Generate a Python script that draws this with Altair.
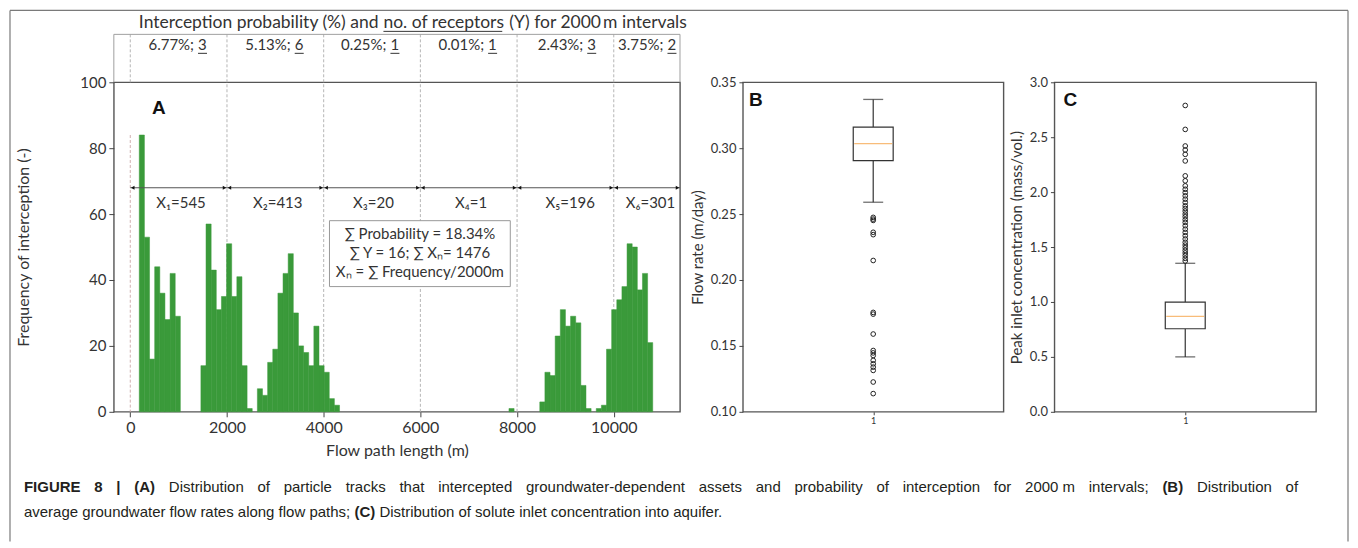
import altair as alt
import pandas as pd

FONT = "Lato"
BOLD_FONT = "Liberation Sans"
CAP_FONT = "Liberation Sans"
TXT = "#333333"
GREEN = "#3a9a3a"
ORANGE = "#f5a040"

# ---------------- Panel A data ----------------
hist_counts = [84, 53, 16, 44, 36, 28, 42, 29, 0, 0, 0, 0,
               14, 57, 43, 31, 35, 51, 35, 41, 14, 1, 0,
               7, 5, 15, 19, 36, 42, 48, 30, 20, 18, 14, 26, 14, 12, 4, 2,
               0, 0, 0, 0, 0, 0, 0, 0, 0, 0, 0, 0, 0, 0, 0, 0, 0, 0, 0, 0, 0, 0,
               0, 0, 0, 0, 0, 0, 0, 0, 0, 0, 0,
               1, 0, 0, 0, 0, 0,
               3, 12, 11, 23, 31, 26, 29, 27, 8, 1, 0, 1, 2,
               19, 31, 34, 38, 51, 50, 37, 42, 21]
hist_first_edge = 186.0
hist_bin_width = 106.2

interval_bounds = [0, 2000, 4000, 6000, 8000, 10000]
interval_end = 11370
interval_label_pos = [1050, 3050, 5030, 7050, 9100, 10760]
interval_prob = ["6.77%;", "5.13%;", "0.25%;", "0.01%;", "2.43%;", "3.75%;"]
interval_receptors = ["3", "6", "1", "1", "3", "2"]
interval_X = [545, 413, 20, 1, 196, 301]
interval_sub = ["\u2081", "\u2082", "\u2083", "\u2084", "\u2085", "\u2086"]

summary_lines = ["\u2211 Probability = 18.34%",
                 "\u2211 Y = 16; \u2211 X\u2099= 1476",
                 "X\u2099 = \u2211 Frequency/2000m"]
summary_line_y = [53.9, 48.2, 42.4]
summary_box = {"x0": [4120], "x1": [7860], "y0": [38], "y1": [58]}
arrow_level = 68
label_level = 63.5
zero_line_top = 84
xA_domain = [-340, 11370]

title_part1 = "Interception probability (%) and"
title_under = "no. of receptors"
title_part3 = "(Y) for 2000\u2009m intervals"

# ---------------- Panel B data ----------------
flow_stats = {"whislo": 0.259, "q1": 0.2905, "med": 0.3035, "q3": 0.316, "whishi": 0.337}
flow_outliers = [0.2475, 0.2462, 0.2452, 0.2362, 0.2344, 0.2148, 0.1754, 0.1741,
                 0.1590, 0.1465, 0.1447, 0.1427, 0.1390, 0.1364, 0.1339, 0.1314,
                 0.1226, 0.1138]

# ---------------- Panel C data ----------------
conc_stats = {"whislo": 0.50, "q1": 0.756, "med": 0.868, "q3": 0.998, "whishi": 1.352}
conc_outliers = [2.789, 2.571, 2.420, 2.384, 2.344, 2.284, 2.148, 2.103, 2.057,
                 2.026, 1.996, 1.966, 1.936, 1.906, 1.875, 1.851, 1.827, 1.800,
                 1.776, 1.749, 1.724, 1.694, 1.663, 1.633, 1.603, 1.573, 1.543,
                 1.518, 1.494, 1.470, 1.446, 1.422, 1.397, 1.373]

# ---------------- caption ----------------
caption_line1 = [("FIGURE", True), ("8", True), ("|", True), ("(A)", True),
                 ("Distribution", False), ("of", False), ("particle", False), ("tracks", False),
                 ("that", False), ("intercepted", False), ("groundwater-dependent", False),
                 ("assets", False), ("and", False), ("probability", False), ("of", False),
                 ("interception", False), ("for", False), ("2000 m", False), ("intervals;", False),
                 ("(B)", True), ("Distribution", False), ("of", False)]
caption_line2 = [("average groundwater flow rates along flow paths;", False), ("(C)", True),
                 ("Distribution of solute inlet concentration into aquifer.", False)]

# ---------------- layout (pixels) ----------------
WA, HA = 567, 330
WB, WC = 261, 262
A_LEFT, A_TOP = 112, 80
CAP_SIZE = 15
CAP_LEFT, CAP_RIGHT = 22, 1298
CAP_Y1, CAP_Y2 = 485, 510

# Arial-compatible advance widths (per 1000 em) for laying out the caption words
_REG = dict(zip("abcdefghijklmnopqrstuvwxyz",
                [556, 556, 500, 556, 556, 278, 556, 556, 222, 222, 500, 222, 833,
                 556, 556, 556, 556, 333, 500, 278, 556, 500, 722, 500, 500, 500]))
_REG.update({" ": 278, ".": 278, ";": 278, "-": 333, "(": 333, ")": 333, "D": 722, "|": 260})
_REG.update({d: 556 for d in "0123456789"})
_BOLD = {"F": 611, "I": 278, "G": 778, "U": 722, "R": 722, "E": 667, "8": 556, "|": 280,
         "(": 333, ")": 333, "A": 722, "B": 722, "C": 722, " ": 278}


def text_width(s, bold):
    table = _BOLD if bold else _REG
    return sum(table.get(ch, 556) for ch in s) * CAP_SIZE / 1000.0


axis_common = dict(labelFont=FONT, labelColor=TXT, tickColor="#444444", domain=False,
                   grid=False, titleFont=FONT, titleColor=TXT, titleFontWeight="normal")

# ---------- Panel A ----------
df_hist = pd.DataFrame({
    "x0": [hist_first_edge + hist_bin_width * k for k in range(len(hist_counts))],
    "x1": [hist_first_edge + hist_bin_width * (k + 1) for k in range(len(hist_counts))],
    "count": hist_counts,
})
df_hist = df_hist[df_hist["count"] > 0]

xsA = alt.Scale(domain=xA_domain, nice=False, zero=False)
ysA = alt.Scale(domain=[0, 100], nice=False)
xaxA = alt.Axis(values=interval_bounds, format="d", labelFontSize=16, tickSize=5, labelPadding=3,
                title="Flow path length (m)", titleFontSize=16, titlePadding=7, **axis_common)
yaxA = alt.Axis(values=[0, 20, 40, 60, 80, 100], labelFontSize=15, tickSize=5, labelPadding=3,
                title="Frequency of interception (-)", titleFontSize=16, titlePadding=48,
                **axis_common)


def XA(f):
    return alt.X(f, scale=xsA, axis=xaxA)


def YA(f):
    return alt.Y(f, scale=ysA, axis=yaxA)


bars = alt.Chart(df_hist).mark_bar(color=GREEN, stroke=GREEN, strokeWidth=0.5).encode(
    x=XA("x0:Q"), x2="x1:Q", y=YA("count:Q"), y2=alt.datum(0))

one = pd.DataFrame({"k": [0]})
BOX_TOP = -48
LBL_Y = -37

df_b = pd.DataFrame({"b": interval_bounds[1:]})
dashed = alt.Chart(df_b).mark_rule(color="#b5b5b5", strokeDash=[3, 2], strokeWidth=1).encode(
    x=XA("b:Q"), y=alt.value(BOX_TOP), y2=alt.value(HA))
df_zero = pd.DataFrame({"b": [interval_bounds[0]], "top": [zero_line_top], "bot": [0]})
zero_plot = alt.Chart(df_zero).mark_rule(color="#d0b0b0", strokeDash=[3, 2], strokeWidth=1).encode(
    x=XA("b:Q"), y=YA("top:Q"), y2="bot:Q")
zero_box = alt.Chart(df_zero).mark_rule(color="#b5b5b5", strokeDash=[3, 2], strokeWidth=1).encode(
    x=XA("b:Q"), y=alt.value(BOX_TOP), y2=alt.value(0))

box_top = alt.Chart(one).mark_rule(color="#a0a0a0", strokeWidth=1).encode(
    x=alt.value(0), x2=alt.value(WA), y=alt.value(BOX_TOP))
box_l = alt.Chart(one).mark_rule(color="#a0a0a0", strokeWidth=1).encode(
    x=alt.value(0), y=alt.value(BOX_TOP), y2=alt.value(0))
box_r = alt.Chart(one).mark_rule(color="#a0a0a0", strokeWidth=1).encode(
    x=alt.value(WA), y=alt.value(BOX_TOP), y2=alt.value(0))

df_arrow = pd.DataFrame({"x0": [interval_bounds[0]], "x1": [interval_end], "y": [arrow_level]})
arrow_line = alt.Chart(df_arrow).mark_rule(color="#555555", strokeWidth=1.2).encode(
    x=XA("x0:Q"), x2="x1:Q", y=YA("y:Q"))
df_left = pd.DataFrame({"x": interval_bounds, "y": [arrow_level] * len(interval_bounds)})
df_right = pd.DataFrame({"x": interval_bounds[1:] + [interval_end],
                         "y": [arrow_level] * len(interval_bounds)})
heads_l = alt.Chart(df_left).mark_point(shape="triangle-left", filled=True, size=16, color="#111",
                                         opacity=1, xOffset=2.5).encode(x=XA("x:Q"), y=YA("y:Q"))
heads_r = alt.Chart(df_right).mark_point(shape="triangle-right", filled=True, size=16, color="#111",
                                          opacity=1, xOffset=-2.5).encode(x=XA("x:Q"), y=YA("y:Q"))

df_xl = pd.DataFrame({
    "x": interval_label_pos,
    "y": [label_level] * 6,
    "t": ["X" + s + "=" + str(v) for s, v in zip(interval_sub, interval_X)],
})
x_labels = alt.Chart(df_xl).mark_text(font=FONT, fontSize=15, color=TXT).encode(
    x=XA("x:Q"), y=YA("y:Q"), text="t:N")

df_pl = pd.DataFrame({"x": interval_label_pos, "p": interval_prob, "r": interval_receptors})
prob_a = alt.Chart(df_pl).mark_text(font=FONT, fontSize=15, color=TXT, align="right",
                                     xOffset=13).encode(x=XA("x:Q"), y=alt.value(LBL_Y), text="p:N")
prob_b = alt.Chart(df_pl).mark_text(font=FONT, fontSize=15, color=TXT, align="left",
                                     xOffset=17).encode(x=XA("x:Q"), y=alt.value(LBL_Y), text="r:N")
prob_u = alt.Chart(df_pl).mark_rule(color=TXT, strokeWidth=1, xOffset=17, x2Offset=26).encode(
    x=XA("x:Q"), x2="x:Q", y=alt.value(LBL_Y + 8))

T_Y = -59
T_SIZE = 17.5
U_START, U_LEN = 270, 122
title_a = alt.Chart(pd.DataFrame({"t": [title_part1]})).mark_text(
    font=FONT, fontSize=T_SIZE, color=TXT, align="right", baseline="middle").encode(
    x=alt.value(U_START - 5), y=alt.value(T_Y), text="t:N")
title_b = alt.Chart(pd.DataFrame({"t": [title_under]})).mark_text(
    font=FONT, fontSize=T_SIZE, color=TXT, align="left", baseline="middle").encode(
    x=alt.value(U_START), y=alt.value(T_Y), text="t:N")
title_u = alt.Chart(one).mark_rule(color=TXT, strokeWidth=1).encode(
    x=alt.value(U_START), x2=alt.value(U_START + U_LEN - 3), y=alt.value(T_Y + 8))
title_c = alt.Chart(pd.DataFrame({"t": [title_part3]})).mark_text(
    font=FONT, fontSize=T_SIZE, color=TXT, align="left", baseline="middle").encode(
    x=alt.value(U_START + U_LEN + 4), y=alt.value(T_Y), text="t:N")

sum_rect = alt.Chart(pd.DataFrame(summary_box)).mark_rect(
    fill="white", stroke="#999999", strokeWidth=1).encode(
    x=XA("x0:Q"), x2="x1:Q", y=YA("y0:Q"), y2="y1:Q")
df_sum = pd.DataFrame({"x": [(summary_box["x0"][0] + summary_box["x1"][0]) / 2] * 3,
                       "y": summary_line_y, "t": summary_lines})
sum_text = alt.Chart(df_sum).mark_text(font=FONT, fontSize=15, color=TXT).encode(
    x=XA("x:Q"), y=YA("y:Q"), text="t:N")

letter_A = alt.Chart(pd.DataFrame({"t": ["A"]})).mark_text(
    font=BOLD_FONT, fontWeight="bold", fontSize=19, color="#111").encode(
    x=alt.value(45), y=alt.value(26), text="t:N")

# outer frame of the figure
FR_L, FR_R, FR_T, FR_B = 8 - A_LEFT, 1348 - A_LEFT, 8 - A_TOP, 540 - A_TOP
frame = [
    alt.Chart(one).mark_rule(color="#7a7a7a", strokeWidth=1.2).encode(
        x=alt.value(FR_L), y=alt.value(FR_T), y2=alt.value(FR_B)),
    alt.Chart(one).mark_rule(color="#7a7a7a", strokeWidth=1.2).encode(
        x=alt.value(FR_R), y=alt.value(FR_T), y2=alt.value(FR_B)),
    alt.Chart(one).mark_rule(color="#7a7a7a", strokeWidth=1.2).encode(
        x=alt.value(FR_L), x2=alt.value(FR_R), y=alt.value(FR_T)),
]

# caption: line 1 justified, line 2 left aligned
caption = []
w1 = [text_width(w, b) for w, b in caption_line1]
gap1 = (CAP_RIGHT - CAP_LEFT - sum(w1)) / (len(caption_line1) - 1)
pos = CAP_LEFT
for (w, b), ww in zip(caption_line1, w1):
    caption.append((w, b, pos, CAP_Y1))
    pos += ww + gap1
pos = CAP_LEFT
for w, b in caption_line2:
    caption.append((w, b, pos, CAP_Y2))
    pos += text_width(w, b) + text_width(" ", False)

caption_marks = []
for text, bold, px, py in caption:
    caption_marks.append(
        alt.Chart(pd.DataFrame({"t": [text]})).mark_text(
            font=CAP_FONT, fontSize=CAP_SIZE, fontWeight="bold" if bold else "normal",
            color="#231f20", align="left", baseline="middle").encode(
            x=alt.value(round(px - A_LEFT, 1)), y=alt.value(py - A_TOP), text="t:N"))

panel_A = alt.layer(
    dashed, zero_plot, zero_box, box_top, box_l, box_r, bars, arrow_line, heads_l, heads_r,
    x_labels, prob_a, prob_b, prob_u, title_a, title_b, title_u, title_c, sum_rect, sum_text,
    letter_A, *frame, *caption_marks
).properties(width=WA, height=HA)


# ---------- Panels B and C ----------
def box_panel(stats, outliers, ydomain, yvalues, yfmt, ytitle, letter, letter_x, width):
    df_s = pd.DataFrame([dict(pos=1, **stats)])
    df_o = pd.DataFrame({"pos": [1] * len(outliers), "v": outliers})
    xs = alt.Scale(domain=[0.5, 1.5], nice=False, zero=False)
    ys = alt.Scale(domain=ydomain, nice=False, zero=False)
    xaxis = alt.Axis(values=[1], format="d", labelFontSize=9, tickSize=3, labelPadding=2,
                     title=None, **axis_common)
    yaxis = alt.Axis(values=yvalues, format=yfmt, labelFontSize=13, tickSize=4, labelPadding=3,
                     title=ytitle, titleFontSize=15, titlePadding=5, **axis_common)

    def X(f):
        return alt.X(f, scale=xs, axis=xaxis)

    def Y(f):
        return alt.Y(f, scale=ys, axis=yaxis)

    wlo = alt.Chart(df_s).mark_rule(color="#333", strokeWidth=1.2).encode(
        x=X("pos:Q"), y=Y("whislo:Q"), y2="q1:Q")
    whi = alt.Chart(df_s).mark_rule(color="#333", strokeWidth=1.2).encode(
        x=X("pos:Q"), y=Y("q3:Q"), y2="whishi:Q")
    box = alt.Chart(df_s).mark_bar(size=40, fill="white", stroke="#333", strokeWidth=1.2).encode(
        x=X("pos:Q"), y=Y("q1:Q"), y2="q3:Q")
    med = alt.Chart(df_s).mark_tick(orient="horizontal", size=38, thickness=1.3, color=ORANGE).encode(
        x=X("pos:Q"), y=Y("med:Q"))
    cap_lo = alt.Chart(df_s).mark_tick(orient="horizontal", size=20, thickness=1.3, color="#333").encode(
        x=X("pos:Q"), y=Y("whislo:Q"))
    cap_hi = alt.Chart(df_s).mark_tick(orient="horizontal", size=20, thickness=1.3, color="#333").encode(
        x=X("pos:Q"), y=Y("whishi:Q"))
    pts = alt.Chart(df_o).mark_point(shape="circle", filled=False, size=22, color="#222",
                                     strokeWidth=1, opacity=1).encode(x=X("pos:Q"), y=Y("v:Q"))
    let = alt.Chart(pd.DataFrame({"t": [letter]})).mark_text(
        font=BOLD_FONT, fontWeight="bold", fontSize=19, color="#111").encode(
        x=alt.value(letter_x), y=alt.value(18), text="t:N")
    return alt.layer(wlo, whi, box, med, cap_lo, cap_hi, pts, let).properties(width=width, height=HA)


panel_B = box_panel(flow_stats, flow_outliers, [0.10, 0.35], [0.10, 0.15, 0.20, 0.25, 0.30, 0.35],
                    ".2f", "Flow rate (m/day)", "B", 13, WB)
panel_C = box_panel(conc_stats, conc_outliers, [0.0, 3.0], [0.0, 0.5, 1.0, 1.5, 2.0, 2.5, 3.0],
                    ".1f", "Peak inlet concentration (mass/vol.)", "C", 16, WC)

right = alt.hconcat(panel_B, panel_C, spacing=51, bounds="flush")
chart = alt.hconcat(panel_A, right, spacing=63, bounds="flush").properties(
    padding=0, background="white"
).configure_view(stroke="#555555", strokeWidth=1.4)

chart.save("out.html", embed_options={"renderer": "svg", "actions": False})
